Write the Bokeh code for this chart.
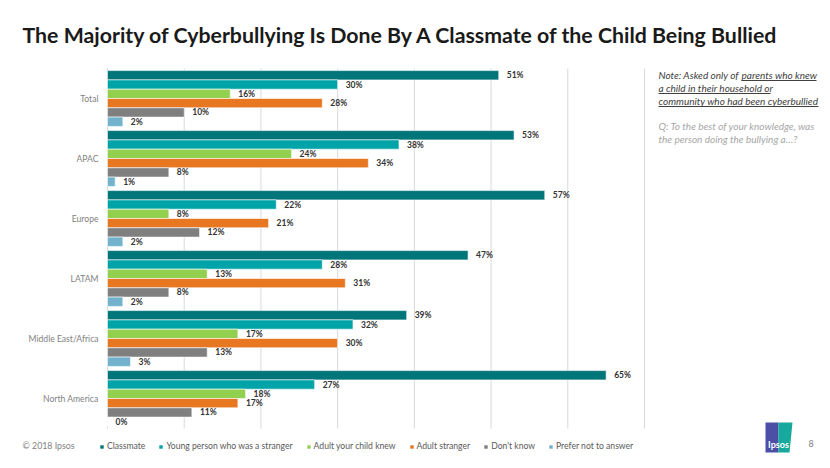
from bokeh.plotting import figure
from bokeh.models import (ColumnDataSource, Range1d, Label, Legend, LegendItem,
                          PolyAnnotation, BoxAnnotation)
from bokeh.transform import dodge
from bokeh.core.properties import value
from bokeh.embed import file_html
from bokeh.resources import INLINE

# ---- data ----
regions = ["Total", "APAC", "Europe", "LATAM", "Middle East/Africa", "North America"]
series_names = ["Classmate", "Young person who was a stranger", "Adult your child knew",
                "Adult stranger", "Don't know", "Prefer not to answer"]
classmate = [51, 53, 57, 47, 39, 65]
young_stranger = [30, 38, 22, 28, 32, 27]
adult_knew = [16, 24, 8, 13, 17, 18]
adult_stranger = [28, 34, 21, 31, 30, 17]
dont_know = [10, 8, 12, 8, 13, 11]
prefer_not = [2, 1, 2, 2, 3, 0]
series_values = [classmate, young_stranger, adult_knew, adult_stranger, dont_know, prefer_not]
colors = ["#00757A", "#00A3A8", "#92D050", "#E87722", "#7F7F7F", "#72B2CD"]
x_ticks = [0, 10, 20, 30, 40, 50, 60, 70]

FONT = "Lato"
W, H = 828, 466
# plot area (page pixels): x 107..644 for 0..70 %, y 68..428 for the six regions
PX0, PX1, PY0, PY1 = 107, 644, 68, 428
k = (PX1 - PX0) / 70.0             # px per percent
band = (PY1 - PY0) / len(regions)  # px per region

p = figure(width=W, height=H, output_backend="svg", toolbar_location=None,
           x_range=Range1d(-PX0 / k, 70 + (W - PX1) / k),
           y_range=Range1d(len(regions) - 0.5 + (H - PY1) / band, -0.5 - PY0 / band),
           min_border=0, min_border_left=0, min_border_right=0,
           min_border_top=0, min_border_bottom=0)
p.outline_line_color = None
p.axis.visible = False
p.grid.visible = False
p.background_fill_color = "white"
p.border_fill_color = "white"

pos = list(range(len(regions)))

# vertical gridlines over the plot area
p.segment(x0=x_ticks, x1=x_ticks, y0=[-0.5] * len(x_ticks),
          y1=[len(regions) - 0.5] * len(x_ticks),
          line_color="#D9D9D9", line_width=1)

# region labels
p.text(x=[0] * len(regions), y=pos, text=regions, x_offset=-9,
       text_align="right", text_baseline="middle", text_font=value(FONT),
       text_font_size="8.6px", text_color="#7F7F7F")

bh = 0.155
legend_items = []
for i, (name, vals, col) in enumerate(zip(series_names, series_values, colors)):
    src = ColumnDataSource(dict(y=pos, x=vals, lab=[f"{v}%" for v in vals]))
    off = (i - 2.5) * bh
    r = p.hbar(y=dodge("y", off), right="x", left=0, height=bh,
               source=src, fill_color=col, line_color="white", line_width=0.6)
    p.text(x="x", y=dodge("y", off), text="lab", source=src,
           x_offset=8, text_baseline="middle", text_align="left",
           text_font=value(FONT), text_font_style="bold", text_font_size="8.5px",
           text_color="#333333")
    legend_items.append(LegendItem(label=name, renderers=[r]))

legend = Legend(items=legend_items, orientation="horizontal",
                location=(99, H - 451),
                glyph_width=5, glyph_height=5, label_standoff=3, spacing=13,
                padding=0, margin=0, border_line_color=None,
                background_fill_alpha=0,
                label_text_font=FONT, label_text_font_size="8.6px",
                label_text_color="#595959", label_height=10)
p.add_layout(legend, "center")


def lab(sx, sy, text, size="9px", color="#595959", style="normal", align="left"):
    p.add_layout(Label(x=sx, y=H - sy, x_units="screen", y_units="screen",
                       text=text, text_font=FONT, text_font_size=size,
                       text_color=color, text_font_style=style, text_align=align,
                       text_baseline="middle"))


# title
lab(22, 34, "The Majority of Cyberbullying Is Done By A Classmate of the Child Being Bullied",
    size="21.3px", color="#1A1A1A", style="bold")

# note
note_col = "#404040"
NS = "10px"
lab(658, 74, "Note: Asked only of", size=NS, color=note_col, style="italic")
lab(741, 74, "parents who knew", size=NS, color=note_col, style="italic")
lab(658, 87, "a child in their household or", size=NS, color=note_col, style="italic")
lab(658, 100, "community who had been cyberbullied", size=NS, color=note_col, style="italic")
lab(658, 125, "Q: To the best of your knowledge, was", size=NS, color="#A6A6A6", style="italic")
lab(658, 138, "the person doing the bullying a\u2026?", size=NS, color="#A6A6A6", style="italic")

for (x0, x1, yy) in [(741, 816, 80), (658, 770, 93), (658, 818, 106)]:
    p.add_layout(BoxAnnotation(left=x0, right=x1, bottom=H - yy - 0.5, top=H - yy + 0.5,
                               left_units="screen", right_units="screen",
                               bottom_units="screen", top_units="screen",
                               fill_color=note_col, fill_alpha=1, line_color=None))

# footer
lab(22, 445, "\u00a9 2018 Ipsos", size="8.8px", color="#7F7F7F")
lab(808, 443, "8", size="9px", color="#7F7F7F")

# logo
p.add_layout(PolyAnnotation(xs=[765, 778, 778, 765], ys=[H - 422, H - 422, H - 452, H - 452],
                            xs_units="screen", ys_units="screen",
                            fill_color="#4B4FA6", fill_alpha=1, line_color=None))
p.add_layout(PolyAnnotation(xs=[778, 792, 789, 778], ys=[H - 422, H - 422, H - 452, H - 452],
                            xs_units="screen", ys_units="screen",
                            fill_color="#17A99E", fill_alpha=1, line_color=None))
lab(778, 444, "Ipsos", size="9px", color="white", style="bold", align="center")

open("out.html", "w").write(file_html(p, INLINE))
